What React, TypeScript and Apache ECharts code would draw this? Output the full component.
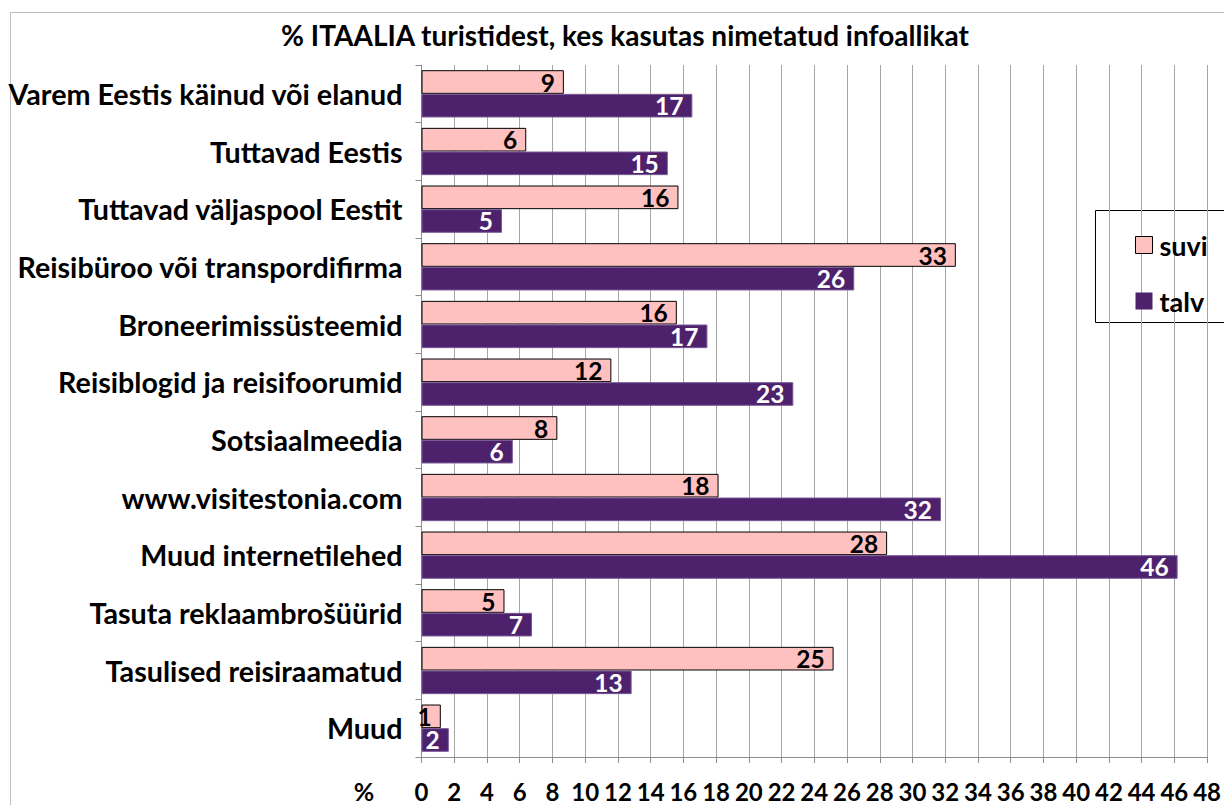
import React, { useEffect, useRef } from "react";
import * as echarts from "echarts";

const titleText = "% ITAALIA turistidest, kes kasutas nimetatud infoallikat";
const categories = [
  "Varem Eestis käinud või elanud",
  "Tuttavad Eestis",
  "Tuttavad väljaspool Eestit",
  "Reisibüroo või transpordifirma",
  "Broneerimissüsteemid",
  "Reisiblogid ja reisifoorumid",
  "Sotsiaalmeedia",
  "www.visitestonia.com",
  "Muud internetilehed",
  "Tasuta reklaambrošüürid",
  "Tasulised reisiraamatud",
  "Muud",
];
const suvi = [8.7, 6.4, 15.7, 32.65, 15.6, 11.6, 8.3, 18.15, 28.45, 5.07, 25.18, 1.18];
const talv = [16.55, 15.05, 4.92, 26.44, 17.47, 22.72, 5.58, 31.74, 46.2, 6.75, 12.84, 1.67];
const seriesNames = ["suvi", "talv"];
const xMin = 0;
const xMax = 48;
const xStep = 2;
const axisUnit = "%";

const FONT = "Lato";
const PINK = "#FFC0C0";
const PURPLE = "#4E216D";

export default function App() {
  const ref = useRef<HTMLDivElement>(null);
  useEffect(() => {
    if (!ref.current) return;
    const chart = echarts.init(ref.current, undefined, { renderer: "svg" });
    const labelCommon = {
      show: true,
      position: "insideRight",
      distance: 9,
      fontFamily: FONT,
      fontWeight: "bold",
      fontSize: 24.5,
      formatter: (p: any) => String(Math.round(p.value)),
    };
    chart.setOption({
      animation: false,
      backgroundColor: "#ffffff",
      textStyle: { fontFamily: FONT },
      grid: { left: 421.5, right: 14, top: 65, bottom: 48, containLabel: false },
      legend: {
        orient: "vertical",
        left: 1130,
        top: 226,
        itemWidth: 17,
        itemHeight: 17,
        itemGap: 28,
        icon: "rect",
        data: [
          { name: seriesNames[0], itemStyle: { borderColor: "#000", borderWidth: 1 } },
          { name: seriesNames[1], itemStyle: { borderWidth: 0 } },
        ],
        textStyle: {
          fontFamily: FONT,
          fontWeight: "bold",
          fontSize: 27,
          lineHeight: 28,
          color: "#000",
          padding: [0, 0, 0, 2],
        },
      },
      xAxis: {
        type: "value",
        min: xMin,
        max: xMax,
        interval: xStep,
        axisLine: { show: true, lineStyle: { color: "#8c8c8c", width: 1 } },
        axisTick: { show: true, length: 6, lineStyle: { color: "#8c8c8c" } },
        splitLine: { show: true, lineStyle: { color: "#a6a6a6", width: 1 } },
        axisLabel: {
          color: "#000",
          fontFamily: FONT,
          fontWeight: "bold",
          fontSize: 24,
          lineHeight: 20,
          margin: 24,
        },
      },
      yAxis: {
        type: "category",
        inverse: true,
        data: categories,
        axisLine: { show: true, lineStyle: { color: "#8c8c8c", width: 1 } },
        axisTick: { show: true, length: 6, lineStyle: { color: "#8c8c8c" } },
        axisLabel: {
          color: "#000",
          fontFamily: FONT,
          fontWeight: "bold",
          fontSize: 28.7,
          margin: 19,
        },
      },
      series: [
        {
          name: seriesNames[0],
          type: "bar",
          data: suvi,
          barGap: "0%",
          barCategoryGap: "18%",
          itemStyle: { color: PINK, borderColor: "#000", borderWidth: 1 },
          label: { ...labelCommon, color: "#000" },
        },
        {
          name: seriesNames[1],
          type: "bar",
          data: talv,
          barGap: "0%",
          barCategoryGap: "18%",
          itemStyle: { color: PURPLE, borderColor: "#7a5a96", borderWidth: 1 },
          label: { ...labelCommon, color: "#fff" },
        },
      ],
      graphic: [
        {
          type: "rect",
          z: -10,
          silent: true,
          shape: { x: 10.5, y: 12.5, width: 1300, height: 900 },
          style: { fill: "none", stroke: "#bfbfbf", lineWidth: 1 },
        },
        {
          type: "rect",
          z: -5,
          silent: true,
          shape: { x: 1095.5, y: 210.5, width: 200, height: 112 },
          style: { fill: "#fff", stroke: "#000", lineWidth: 1 },
        },
        {
          type: "text",
          x: 625,
          y: 35,
          style: {
            text: titleText,
            fontFamily: FONT,
            fontWeight: "bold",
            fontSize: 28,
            fill: "#000",
            align: "center",
            verticalAlign: "middle",
          },
        },
        {
          type: "text",
          x: 364,
          y: 791,
          style: {
            text: axisUnit,
            fontFamily: FONT,
            fontWeight: "bold",
            fontSize: 25,
            lineHeight: 20,
            fill: "#000",
            align: "center",
            verticalAlign: "middle",
          },
        },
      ],
    });
    return () => chart.dispose();
  }, []);
  return (
    <div
      ref={ref}
      style={{ position: "absolute", left: 0, top: 0, width: 1224, height: 805 }}
    />
  );
}
